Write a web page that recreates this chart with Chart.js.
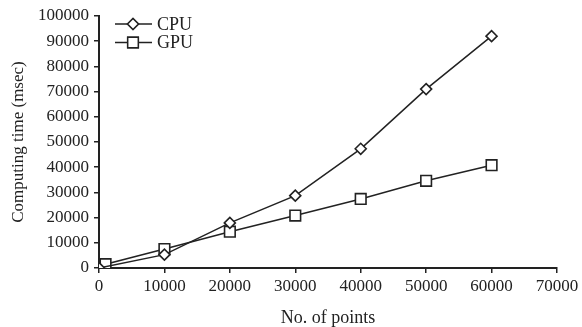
<!DOCTYPE html>
<html><head><meta charset="utf-8">
<script src="https://cdn.jsdelivr.net/npm/chart.js@4"></script>
<style>html,body{margin:0;padding:0;background:#fff}#w{width:582px;height:327px}</style>
</head><body><div id="w"><canvas id="c"></canvas></div>
<script>
const cpuX = [0, 10000, 20000, 30000, 40000, 50000, 60000];
const cpuY = [0, 5300, 17900, 28700, 47300, 71000, 92000];
const gpuX = [0, 1000, 10000, 20000, 30000, 40000, 50000, 60000];
const gpuY = [0, 1500, 7500, 14400, 20800, 27400, 34600, 40800];
const seriesNames = ['CPU', 'GPU'];
const xTitle = 'No. of points';
const yTitle = 'Computing time (msec)';

const FONT = 'Liberation Serif, Times New Roman, serif';
Chart.defaults.font.family = FONT;
Chart.defaults.color = '#222';

const legendPlugin = {
  id: 'lineLegend',
  afterDraw(chart) {
    const ctx = chart.ctx;
    ctx.save();
    const items = [{name: seriesNames[0], style: 'rectRot', r: 5.5}, {name: seriesNames[1], style: 'rect', r: 7.5}];
    items.forEach((it, i) => {
      const y = 24 + i * 18.5;
      ctx.strokeStyle = '#222'; ctx.lineWidth = 1.5;
      ctx.beginPath(); ctx.moveTo(115, y); ctx.lineTo(152, y); ctx.stroke();
      ctx.fillStyle = '#fff';
      Chart.helpers.drawPoint(ctx, {pointStyle: it.style, radius: it.r, borderWidth: 1.5}, 133, y);
      ctx.fill(); ctx.stroke();
      ctx.fillStyle = '#222';
      ctx.font = '18px ' + FONT;
      ctx.textBaseline = 'middle';
      ctx.fillText(it.name, 157, y + 1);
    });
    ctx.restore();
  }
};

const fmt = v => String(v);

new Chart(document.getElementById('c'), {
  type: 'scatter',
  data: {
    datasets: [
      {label: seriesNames[0], data: cpuX.map((x, i) => ({x, y: cpuY[i]})), showLine: true,
       borderColor: '#222', borderWidth: 1.5, pointStyle: 'rectRot', pointRadius: 5.5,
       pointBackgroundColor: '#fff', pointBorderColor: '#222', pointBorderWidth: 1.6, order: 1},
      {label: seriesNames[1], data: gpuX.map((x, i) => ({x, y: gpuY[i]})), showLine: true,
       borderColor: '#222', borderWidth: 1.5, pointStyle: 'rect', pointRadius: 7.5,
       pointBackgroundColor: '#fff', pointBorderColor: '#222', pointBorderWidth: 1.6, order: 2}
    ]
  },
  options: {
    responsive: true, maintainAspectRatio: false, animation: false,
    layout: {padding: {left: 0, right: 25, top: 16, bottom: 0}},
    plugins: {legend: {display: false}, tooltip: {enabled: false}},
    scales: {
      x: {
        type: 'linear', min: 0, max: 70000,
        ticks: {stepSize: 10000, color: '#222', font: {size: 17}, padding: 3, maxRotation: 0, callback: fmt},
        grid: {display: true, drawOnChartArea: false, drawTicks: true, tickLength: 5, color: '#222', lineWidth: 1.5},
        border: {display: true, color: '#222', width: 2},
        title: {display: true, text: xTitle, color: '#222', font: {size: 18, lineHeight: 1.0}, padding: {top: 0, bottom: 0}},
        afterFit(s) { s.height = 59; }
      },
      y: {
        min: 0, max: 100000,
        ticks: {stepSize: 10000, color: '#222', font: {size: 17}, padding: 5, callback: fmt},
        grid: {display: true, drawOnChartArea: false, drawTicks: true, tickLength: 5, color: '#222', lineWidth: 1.5},
        border: {display: true, color: '#222', width: 2},
        title: {display: true, text: yTitle, color: '#222', font: {size: 17, lineHeight: 1.0}, padding: {top: 10, bottom: 0}},
        afterFit(s) { s.width = 99; }
      }
    }
  },
  plugins: [legendPlugin]
});
</script></body></html>
